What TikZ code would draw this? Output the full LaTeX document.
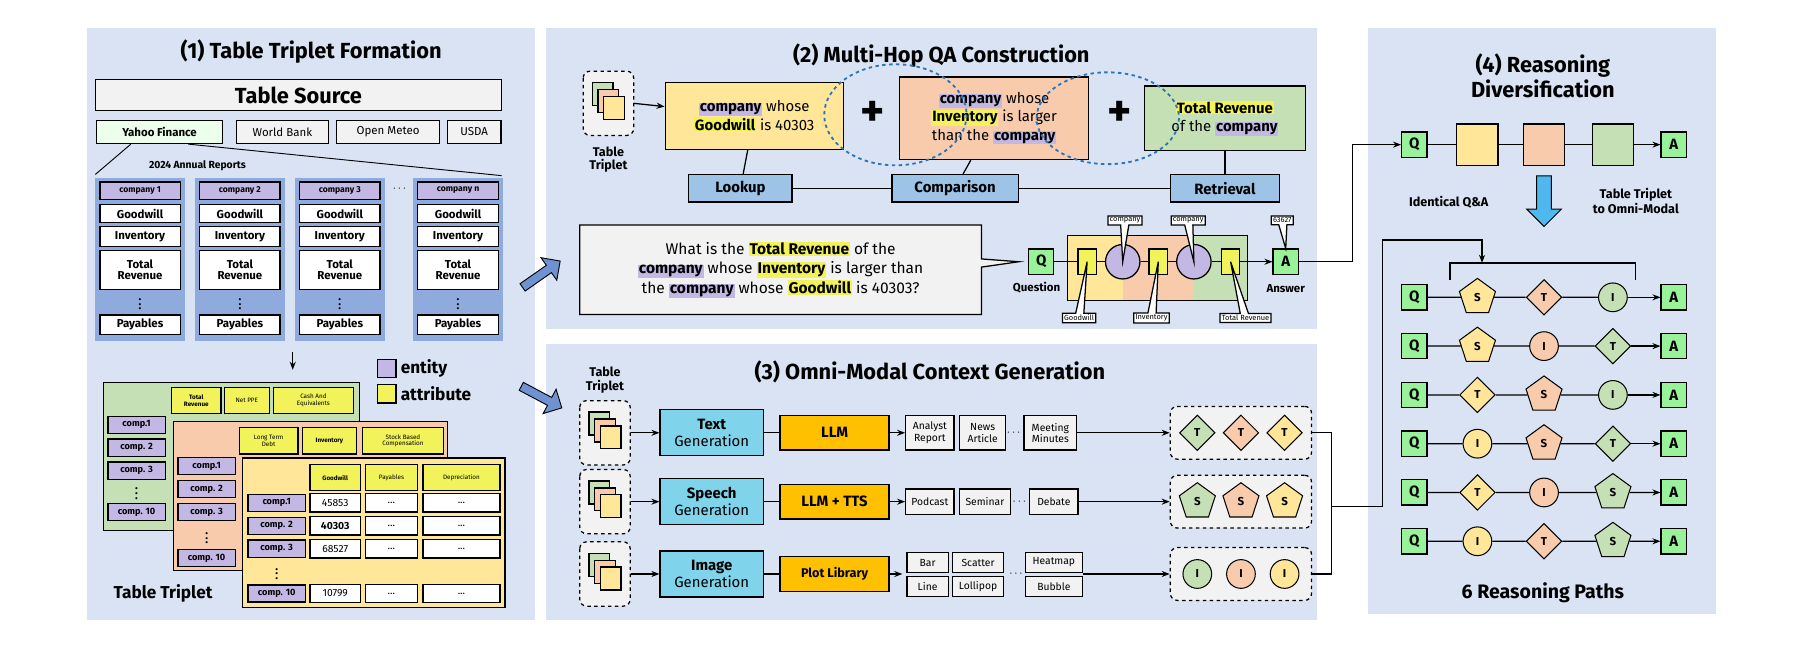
\documentclass[tikz,border=0pt]{standalone}
\usepackage{fontspec}
\setmainfont{Fira Sans}
\usetikzlibrary{positioning,shapes.geometric,shapes.arrows,shapes.callouts,arrows.meta}

\definecolor{panelC}{HTML}{DAE3F3}
\definecolor{yelC}{HTML}{FFE699}
\definecolor{salC}{HTML}{F8CBAD}
\definecolor{grnC}{HTML}{C5E0B4}
\definecolor{entC}{HTML}{C3B8E4}
\definecolor{attC}{HTML}{F2F25A}
\definecolor{colC}{HTML}{8FAADC}
\definecolor{opC}{HTML}{9DC3E6}
\definecolor{genC}{HTML}{7FD3EA}
\definecolor{llmC}{HTML}{FFC000}
\definecolor{qC}{HTML}{99F29A}
\definecolor{grayC}{HTML}{F2F2F2}
\definecolor{dashC}{HTML}{2E75B6}
\definecolor{fatC}{HTML}{6F93D0}
\definecolor{downC}{HTML}{4FB8EE}

\newcommand{\ent}[1]{{\setlength{\fboxsep}{0.8pt}\colorbox{entC}{\bfseries #1}}}
\newcommand{\att}[1]{{\setlength{\fboxsep}{0.8pt}\colorbox{attC}{\bfseries #1}}}

\begin{document}
\begin{tikzpicture}[
    x=1pt, y=-1pt,
    line width=1.1pt,
    ttl/.style={font=\fontsize{19}{22}\selectfont\bfseries, align=center},
    cell/.style={draw, fill=white, minimum width=70, inner sep=0, font=\fontsize{10}{11}\selectfont\bfseries, align=center},
    ent/.style={draw, fill=entC, minimum width=50, minimum height=15, inner sep=0, font=\fontsize{8}{9}\selectfont\bfseries},
    att/.style={draw, fill=attC, minimum height=23, inner sep=0, font=\fontsize{5.5}{6}\selectfont, align=center},
    val/.style={draw, fill=white, minimum height=16, inner sep=0, font=\fontsize{9}{10}\selectfont},
    src/.style={draw, fill=grayC, minimum height=20, inner sep=1, font=\fontsize{10}{11}\selectfont},
    op/.style={draw, fill=opC, minimum height=24, font=\fontsize{13}{15}\selectfont\bfseries},
    hop/.style={draw, align=center, font=\fontsize{13}{16}\selectfont, inner sep=3},
    gen/.style={draw, fill=genC, minimum width=90, minimum height=40, align=center, inner sep=0, font=\fontsize{13}{14}\selectfont},
    llm/.style={draw, fill=llmC, minimum width=95, minimum height=30, font=\fontsize{13}{15}\selectfont\bfseries},
    doc/.style={draw, fill=grayC, minimum height=30, inner sep=1, align=center, font=\fontsize{9}{10}\selectfont},
    docs/.style={draw, fill=grayC, minimum height=17, inner sep=1, font=\fontsize{9}{10}\selectfont},
    qa/.style={draw, fill=qC, minimum size=22, inner sep=0, font=\fontsize{13}{15}\selectfont\bfseries},
    chip/.style={draw, fill=attC, minimum width=16, minimum height=22, inner sep=0},
    dot/.style={draw, circle, fill=entC, minimum size=30, inner sep=0},
    lbl/.style={draw, fill=white, inner sep=1.5, font=\fontsize{6.5}{7}\selectfont},
    shS/.style={regular polygon, regular polygon sides=5, minimum size=33},
    shT/.style={diamond, minimum size=31},
    shI/.style={circle, minimum size=25},
    sh/.style={draw, line width=0.9pt, inner sep=0, font=\fontsize{10}{11}\selectfont\bfseries, sh#1},
    dbox/.style={draw, dashed, rounded corners=6, fill=grayC},
    fat/.style={single arrow, draw, fill=fatC, line width=0.8pt, minimum height=40, minimum width=24, single arrow head extend=5, inner sep=2},
    >={Stealth[length=7pt]},
    triplet/.pic={
        \draw[dbox] (-22,-28) rectangle (22,28);
        \draw[fill=grnC] (-14,-18) rectangle (4,2);
        \draw[fill=salC] (-9,-12) rectangle (9,8);
        \draw[fill=yelC] (-4,-6) rectangle (14,14);
    }
    ]
    \useasboundingbox[fill=white] (0,0) rectangle (1568,565);

    % panels
    \fill[panelC] (76,24) rectangle (466,540);
    \fill[panelC] (476,24) rectangle (1147,287);
    \fill[panelC] (476,300) rectangle (1147,540);
    \fill[panelC] (1192,24) rectangle (1495,535);

    % ---------- (1) Table Triplet Formation ----------
    \node[ttl] (t1) at (271,45) {(1) Table Triplet Formation};
    \node[draw, fill=grayC, minimum width=354, minimum height=27, font=\fontsize{19}{22}\selectfont\bfseries] (source) at (260,83) {Table Source};
    \node[src, fill=green!8, font=\fontsize{10}{11}\selectfont\bfseries, minimum width=110] (yahoo) at (139,115) {Yahoo Finance};
    \node[src, minimum width=80] (wb) at (246,115) {World Bank};
    \node[src, minimum width=90] (om) at (338,115) {Open Meteo};
    \node[src, minimum width=47] (usda) at (413,115) {USDA};
    \coordinate (fanL) at (83,152);
    \coordinate (fanR) at (437,153);
    \draw[line width=0.8pt] ([xshift=-25]yahoo.south) -- (fanL);
    \draw[line width=0.8pt] ([xshift=25]yahoo.south) -- (fanR);
    \node[font=\fontsize{9}{10}\selectfont\bfseries] (annual) at (172,144) {2024 Annual Reports};

    \foreach \cx/\lab [count=\i] in {122/company 1, 209/company 2, 296/company 3, 399/company n}{
        \fill[colC] (\cx-39,155) rectangle (\cx+39,297);
        \node[cell, fill=entC, minimum height=15, font=\fontsize{7.5}{8}\selectfont\bfseries] (c\i) at (\cx,166) {\lab};
        \node[cell, minimum height=16] (g\i) at (\cx,186) {Goodwill};
        \node[cell, minimum height=17] (v\i) at (\cx,206) {Inventory};
        \node[cell, minimum height=34] (r\i) at (\cx,235) {Total\\[-2pt]Revenue};
        \node[font=\bfseries] (d\i) at (\cx,262) {$\vdots$};
        \node[cell, minimum height=17] (p\i) at (\cx,283) {Payables};
    }
    \node[font=\bfseries] (cdots) at (348,165) {$\cdots$};

    \node (down1) at (255,303) {};
    \node (down2) at (255,326) {};
    \draw[->] (down1) -- (down2);
    \node[draw, fill=entC, minimum size=16, inner sep=0] (legE) at (337,321) {};
    \node[right=3pt of legE, font=\fontsize{15}{17}\selectfont\bfseries, inner sep=0] (legEt) {entity};
    \node[draw, fill=attC, minimum size=16, inner sep=0] (legA) at (337,343) {};
    \node[right=3pt of legA, font=\fontsize{15}{17}\selectfont\bfseries, inner sep=0] (legAt) {attribute};

    % stacked tables
    \draw[fill=grnC] (90,333) rectangle (313,462);
    \node[att, minimum width=43, font=\fontsize{5.5}{6}\selectfont\bfseries] (h1a) at (171,349) {Total\\Revenue};
    \node[att, minimum width=39] (h1b) at (215,349) {Net PPE};
    \node[att, minimum width=70] (h1c) at (273,349) {Cash And\\Equivalents};
    \foreach \y/\lab [count=\i] in {370/comp.1, 390/comp. 2, 410/comp. 3, 446/comp. 10}
        \node[ent] (ga\i) at (119,\y) {\lab};
    \node[font=\bfseries] (gdots) at (119,427) {$\vdots$};

    \draw[fill=salC] (151,367) rectangle (390,497);
    \node[att, minimum width=51] (h2a) at (234,384) {Long Term\\Debt};
    \node[att, minimum width=47, font=\fontsize{5.5}{6}\selectfont\bfseries] (h2b) at (287,384) {Inventory};
    \node[att, minimum width=71] (h2c) at (351,384) {Stock Based\\Compensation};
    \foreach \y/\lab [count=\i] in {406/comp.1, 426/comp. 2, 446/comp. 3, 486/comp. 10}
        \node[ent] (sa\i) at (180,\y) {\lab};
    \node[font=\bfseries] (sdots) at (180,466) {$\vdots$};

    \draw[fill=yelC] (211,399) rectangle (440,529);
    \node[att, minimum width=44, font=\fontsize{5.5}{6}\selectfont\bfseries] (h3a) at (292,416) {Goodwill};
    \node[att, minimum width=45] (h3b) at (341,416) {Payables};
    \node[att, minimum width=67] (h3c) at (402,416) {Depreciation};
    \foreach \y/\lab/\num [count=\i] in {438/comp.1/45853, 458/comp. 2/\textbf{40303}, 478/comp. 3/68527, 517/comp. 10/10799}{
        \node[ent] (ya\i) at (241,\y) {\lab};
        \node[val, minimum width=44] (yv\i) at (292,\y) {\num};
        \node[val, minimum width=45] (yp\i) at (341,\y) {...};
        \node[val, minimum width=67] (yd\i) at (402,\y) {...};
    }
    \node[font=\bfseries] (ydots) at (241,497) {$\vdots$};
    \node[font=\fontsize{15}{17}\selectfont\bfseries] (tt1) at (142,517) {Table Triplet};

    \node[fat, rotate=35] (fat1) at (470,240) {};
    \node[fat, rotate=-28] (fat2) at (470,345) {};

    % ---------- (2) Multi-Hop QA Construction ----------
    \node[ttl] (t2) at (820,48) {(2) Multi-Hop QA Construction};
    \pic at (530,90) {triplet};
    \node[font=\fontsize{11}{12}\selectfont\bfseries, align=center] (tt2) at (530,139) {Table\\Triplet};
    \node[hop, fill=yelC, minimum width=155, minimum height=58] (hop1) at (657,101) {\ent{company} whose\\\att{Goodwill} is 40303};
    \node[hop, fill=salC, minimum width=165, minimum height=72] (hop2) at (866,103) {\ent{company} whose\\\att{Inventory} is larger\\than the \ent{company}};
    \node[hop, fill=grnC, minimum width=140, minimum height=56] (hop3) at (1067,103) {\att{Total Revenue}\\of the \ent{company}};
    \draw[->] (552,90) -- (hop1);
    \node[font=\fontsize{40}{40}\selectfont\bfseries] (plus1) at (760,99) {+};
    \node[font=\fontsize{40}{40}\selectfont\bfseries] (plus2) at (975,99) {+};
    \draw[dashC, dashed, line width=1.6pt] (780,100) ellipse [x radius=62, y radius=44];
    \draw[dashC, dashed, line width=1.6pt] (965,103) ellipse [x radius=62, y radius=40];
    \node[op, minimum width=90] (lookup) at (645,164) {Lookup};
    \node[op, minimum width=110] (compare) at (832,164) {Comparison};
    \node[op, minimum width=95] (retrieve) at (1067,164) {Retrieval};
    \draw (lookup) -- (compare) -- (retrieve);
    \draw (hop1) -- (lookup);
    \draw (hop2) -- (compare);
    \draw (hop3) -- (retrieve);

    \node[qa] (q2) at (907,228) {Q};
    \node[font=\fontsize{10}{11}\selectfont\bfseries] (qlab) at (903,251) {Question};
    \coordinate[left=8pt of q2] (qtip);
    \node[rectangle callout, draw, fill=grayC, minimum width=350, minimum height=78, align=center,
          font=\fontsize{13.5}{17}\selectfont, callout absolute pointer=(qtip)] (bubble) at (680,235)
          {What is the \att{Total Revenue} of the\\\ent{company} whose \att{Inventory} is larger than\\the \ent{company} whose \att{Goodwill} is 40303?};
    \fill[yelC] (930,205) rectangle (978,262);
    \fill[salC] (978,205) rectangle (1040,262);
    \fill[grnC] (1040,205) rectangle (1087,262);
    \draw[line width=0.8pt] (930,205) rectangle (1087,262);
    \node[chip] (k1) at (947,228) {};
    \node[dot] (e1) at (978,228) {};
    \node[chip] (k2) at (1009,228) {};
    \node[dot] (e2) at (1040,228) {};
    \node[chip] (k3) at (1072,228) {};
    \node[qa] (a2) at (1120,228) {A};
    \node[font=\fontsize{10}{11}\selectfont\bfseries] (alab) at (1120,251) {Answer};
    \draw (q2) -- (k1) -- (e1) -- (k2) -- (e2) -- (k3);
    \draw[->] (k3) -- (a2);
    \node[lbl, rectangle callout, callout absolute pointer=(e1.center)] (ce1) at (980,192) {company};
    \node[lbl, rectangle callout, callout absolute pointer=(e2.center)] (ce2) at (1035,192) {company};
    \node[lbl, rectangle callout, callout absolute pointer=(a2.north)] (ca) at (1117,192) {63627};
    \node[lbl, rectangle callout, callout absolute pointer=(k1.center)] (ck1) at (940,277) {Goodwill};
    \node[lbl, rectangle callout, callout absolute pointer=(k2.center)] (ck2) at (1003,277) {Inventory};
    \node[lbl, rectangle callout, callout absolute pointer=(k3.center)] (ck3) at (1085,277) {Total Revenue};

    % ---------- (3) Omni-Modal Context Generation ----------
    \node[ttl] (t3) at (810,324) {(3) Omni-Modal Context Generation};
    \node[font=\fontsize{11}{12}\selectfont\bfseries, align=center] (tt3) at (527,331) {Table\\Triplet};
    \foreach \y/\g/\l/\s [count=\i] in {377/Text/LLM/T, 437/Speech/LLM + TTS/S, 500/Image/{\fontsize{11}{13}\selectfont Plot Library}/I}{
        \pic at (527,\y) {triplet};
        \node[gen] (gen\i) at (620,\y) {\textbf{\g}\\[1pt]Generation};
        \node[llm] (llm\i) at (727,\y) {\l};
        \draw[->] (550,\y) -- (gen\i);
        \draw (gen\i) -- (llm\i);
        \node[dbox, minimum width=123, minimum height=46] (res\i) at (1081,\y) {};
        \node[sh=\s, fill=grnC] (ra\i) at (1043,\y) {\s};
        \node[sh=\s, fill=salC] (rb\i) at (1081,\y) {\s};
        \node[sh=\s, fill=yelC] (rc\i) at (1119,\y) {\s};
    }
    \node[doc, minimum width=42] (o11) at (810,377) {Analyst\\Report};
    \node[doc, minimum width=40] (o12) at (856,377) {News\\Article};
    \node (o1d) at (883,377) {$\cdots$};
    \node[doc, minimum width=46] (o13) at (915,377) {Meeting\\Minutes};
    \node[docs, minimum width=42, minimum height=22] (o21) at (810,437) {Podcast};
    \node[docs, minimum width=44, minimum height=22] (o22) at (858,437) {Seminar};
    \node (o2d) at (888,437) {$\cdots$};
    \node[docs, minimum width=42, minimum height=22] (o23) at (918,437) {Debate};
    \node[docs, minimum width=36] (o31) at (808,490) {Bar};
    \node[docs, minimum width=44] (o32) at (852,490) {Scatter};
    \node[docs, minimum width=36] (o33) at (808,511) {Line};
    \node[docs, minimum width=44] (o34) at (852,511) {Lollipop};
    \node (o3d) at (885,500) {$\cdots$};
    \node[docs, minimum width=50] (o35) at (918,490) {Heatmap};
    \node[docs, minimum width=50] (o36) at (918,511) {Bubble};
    \draw[->] (llm1) -- (o11);
    \draw[->] (llm2) -- (o21);
    \draw[->] (llm3) -- (786,500);
    \draw[->] (o13) -- (res1);
    \draw[->] (o23) -- (res2);
    \draw[->] (943,500) -- (res3);

    % ---------- (4) Reasoning Diversification ----------
    \node[ttl] (t4) at (1344,66) {(4) Reasoning\\Diversification};
    \node[qa] (q4) at (1232,126) {Q};
    \node[draw, fill=yelC, minimum size=36] (m1) at (1287,126) {};
    \node[draw, fill=salC, minimum size=36] (m2) at (1345,126) {};
    \node[draw, fill=grnC, minimum size=36] (m3) at (1405,126) {};
    \node[qa] (a4) at (1458,126) {A};
    \draw (q4) -- (m1) -- (m2) -- (m3);
    \draw[->] (m3) -- (a4);
    \draw[->] (a2) -- ++(58,0) |- (q4);
    \node[single arrow, draw, fill=downC, line width=0.8pt, rotate=-90, minimum height=44, minimum width=30, single arrow head extend=5] (big) at (1345,172) {};
    \node[font=\fontsize{11}{13}\selectfont\bfseries] (same) at (1262,176) {Identical Q\&A};
    \node[font=\fontsize{11}{13}\selectfont\bfseries, align=center] (conv) at (1425,175) {Table Triplet\\to Omni-Modal};

    \foreach \a/\b/\c [count=\i from 0] in {S/T/I, S/I/T, T/S/I, I/S/T, T/I/S, I/T/S}{
        \pgfmathsetmacro{\ry}{259+42.5*\i}
        \node[qa] (q\i) at (1232,\ry) {Q};
        \node[sh=\a, fill=yelC] (f\i) at (1287,\ry) {\a};
        \node[sh=\b, fill=salC] (s\i) at (1345,\ry) {\b};
        \node[sh=\c, fill=grnC] (l\i) at (1405,\ry) {\c};
        \node[qa] (a\i) at (1458,\ry) {A};
        \draw (q\i) -- (f\i) -- (s\i) -- (l\i);
        \draw[->] (l\i) -- (a\i);
    }
    \coordinate (brL) at (1263,244);
    \coordinate (brR) at (1425,244);
    \draw (brL) -- ++(0,-15) -| (brR);
    \coordinate (merge) at (1291,229);
    \draw (res1.east) -- ++(17,0) |- (res3.east);
    \draw[->] (1160,441) -- (1204,441) -- (1204,209) -| (merge);
    \node[font=\fontsize{17}{20}\selectfont\bfseries] (paths) at (1344,516) {6 Reasoning Paths};
\end{tikzpicture}
\end{document}
